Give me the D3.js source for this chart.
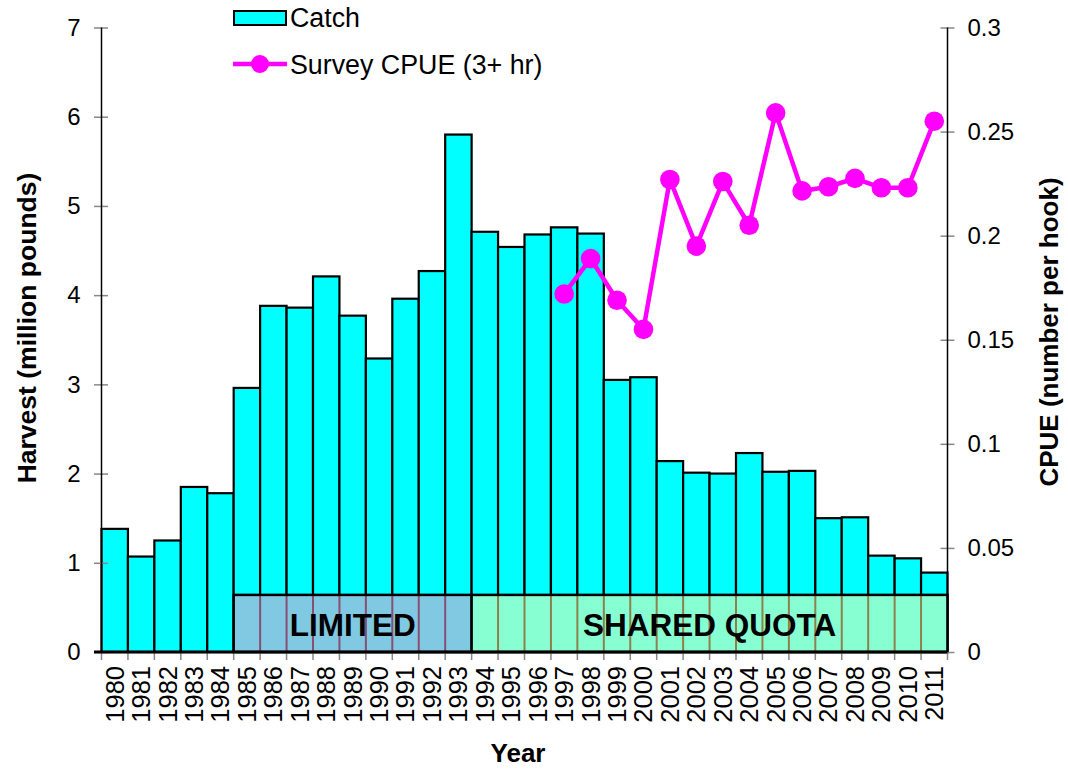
<!DOCTYPE html>
<html>
<head>
<meta charset="utf-8">
<script src="https://cdn.jsdelivr.net/npm/d3@7"></script>
<style>
  html, body { margin: 0; padding: 0; background: #ffffff; }
  svg { display: block; font-family: "Liberation Sans", Arial, sans-serif; }
</style>
</head>
<body>
<svg id="chart" width="1068" height="771"></svg>
<script>
// ---- data ----
const years = [1980,1981,1982,1983,1984,1985,1986,1987,1988,1989,1990,1991,1992,1993,1994,1995,1996,1997,1998,1999,2000,2001,2002,2003,2004,2005,2006,2007,2008,2009,2010,2011];
const catchValues = [1.38,1.07,1.25,1.85,1.78,2.96,3.88,3.86,4.21,3.77,3.29,3.96,4.27,5.80,4.71,4.54,4.68,4.76,4.69,3.05,3.08,2.14,2.01,2.00,2.23,2.02,2.03,1.50,1.51,1.08,1.05,0.89];
const cpueYears = [1997,1998,1999,2000,2001,2002,2003,2004,2005,2006,2007,2008,2009,2010,2011];
const cpueValues = [0.172,0.189,0.169,0.155,0.227,0.195,0.226,0.205,0.259,0.2215,0.2235,0.2275,0.223,0.223,0.255];
const leftTicks = [0,1,2,3,4,5,6,7];
const rightTicks = [0,0.05,0.1,0.15,0.2,0.25,0.3];
const rightTickLabels = ["0","0.05","0.1","0.15","0.2","0.25","0.3"];
const regimeLabels = ["LIMITED","SHARED QUOTA"];
const regimeStart = [1985,1994];
const regimeEnd = [1993,2011];
const regimeHeight = 0.64; // in harvest units
const regimeFills = ["#80C9E2","#86FFD3"];
const regimeLineColors = ["#8A4E72","#8E8048"];

(function () {
// ---- layout ----
const svg = d3.select("#chart");
const pLeft = 101.5, pRight = 947.5, pTop = 27.5, pBottom = 652;

const x = d3.scaleBand().domain(years).range([pLeft, pRight]).padding(0);
const yL = d3.scaleLinear().domain([0,7]).range([pBottom, pTop]);
const yR = d3.scaleLinear().domain([0,0.3]).range([pBottom, pTop]);

// bars
svg.append("g").selectAll("rect").data(years).join("rect")
  .attr("x", d => x(d))
  .attr("y", (d,i) => yL(catchValues[i]))
  .attr("width", x.bandwidth())
  .attr("height", (d,i) => pBottom - yL(catchValues[i]))
  .attr("fill", "#00FFFF")
  .attr("stroke", "#000")
  .attr("stroke-width", 2.2);

// regime boxes
const defs = svg.append("defs");
regimeLabels.forEach((lab, i) => {
  const p = defs.append("pattern").attr("id", "pat" + i)
    .attr("width", 4).attr("height", 4).attr("patternUnits", "userSpaceOnUse");
  p.append("rect").attr("width", 4).attr("height", 4).attr("fill", regimeFills[i]);
  p.append("rect").attr("x", 0).attr("y", 0).attr("width", 1).attr("height", 1)
    .attr("fill", i === 0 ? "#8ec2d8" : "#9cf0c8").attr("opacity", 0.6);
});
const rg = svg.append("g");
regimeLabels.forEach((lab, i) => {
  const x0 = x(regimeStart[i]);
  const x1 = x(regimeEnd[i]) + x.bandwidth();
  const yt = yL(regimeHeight);
  rg.append("rect").attr("x", x0).attr("y", yt).attr("width", x1 - x0).attr("height", pBottom - yt)
    .attr("fill", "url(#pat" + i + ")");
  const inner = years.filter(y => y > regimeStart[i] && y <= regimeEnd[i]);
  rg.append("g").selectAll("line").data(inner).join("line")
    .attr("x1", d => x(d)).attr("x2", d => x(d))
    .attr("y1", yt + 1).attr("y2", pBottom - 1)
    .attr("stroke", regimeLineColors[i]).attr("stroke-width", 2);
  rg.append("rect").attr("x", x0).attr("y", yt).attr("width", x1 - x0).attr("height", pBottom - yt)
    .attr("fill", "none").attr("stroke", "#000").attr("stroke-width", 2.5);
  rg.append("text").attr("x", (x0 + x1) / 2).attr("y", 636)
    .attr("text-anchor", "middle").attr("font-weight", "bold").attr("font-size", 31.5)
    .attr("fill", "#000").text(lab);
});

// axes
const axL = svg.append("g").attr("transform", `translate(${pLeft},0)`)
  .call(d3.axisLeft(yL).tickValues(leftTicks).tickSize(0).tickPadding(21).tickFormat(d3.format("d")));
axL.select(".domain").remove();
axL.selectAll("text").attr("font-size", 24).attr("fill", "#000").attr("font-family", null);
axL.selectAll(".tick").append("line").attr("x1", -7.5).attr("x2", 6.5).attr("stroke", "#888").attr("stroke-width", 1.5);
svg.append("line").attr("x1", pLeft).attr("x2", pLeft).attr("y1", pTop).attr("y2", pBottom).attr("stroke", "#000").attr("stroke-width", 1.5);

const axR = svg.append("g").attr("transform", `translate(${pRight},0)`)
  .call(d3.axisRight(yR).tickValues(rightTicks).tickSize(0).tickPadding(20).tickFormat((d,i) => rightTickLabels[i]));
axR.select(".domain").remove();
axR.selectAll("text").attr("font-size", 24).attr("fill", "#000").attr("font-family", null);
axR.selectAll(".tick").append("line").attr("x1", -7).attr("x2", 7).attr("stroke", "#888").attr("stroke-width", 1.5);
svg.append("line").attr("x1", pRight).attr("x2", pRight).attr("y1", pTop).attr("y2", pBottom).attr("stroke", "#000").attr("stroke-width", 1.5);

// bottom axis
const axB = svg.append("g").attr("transform", `translate(0,${pBottom})`)
  .call(d3.axisBottom(x).tickSize(0).tickPadding(0));
axB.select(".domain").remove();
axB.selectAll("text")
  .attr("font-size", 25.5).attr("fill", "#000").attr("font-family", null)
  .attr("text-anchor", "end")
  .attr("transform", "translate(0,14) rotate(-90)")
  .attr("x", 0).attr("y", 0).attr("dy", "0.35em");
const bounds = years.map(d => x(d)).concat([pRight]);
svg.append("g").selectAll("line").data(bounds).join("line")
  .attr("x1", d => d).attr("x2", d => d).attr("y1", pBottom).attr("y2", pBottom + 8)
  .attr("stroke", "#888").attr("stroke-width", 1.5);
svg.append("line").attr("x1", pLeft - 7.5).attr("x2", pRight).attr("y1", pBottom).attr("y2", pBottom)
  .attr("stroke", "#000").attr("stroke-width", 3);

// CPUE line
const cx = d => x(d) + x.bandwidth() / 2;
svg.append("path").datum(cpueYears)
  .attr("fill", "none").attr("stroke", "#FF00FF").attr("stroke-width", 4.5).attr("stroke-linejoin", "round")
  .attr("d", d3.line().x(d => cx(d)).y((d,i) => yR(cpueValues[i])));
svg.append("g").selectAll("circle").data(cpueYears).join("circle")
  .attr("cx", d => cx(d)).attr("cy", (d,i) => yR(cpueValues[i])).attr("r", 9.8)
  .attr("fill", "#FF00FF");

// axis titles
svg.append("text").attr("transform", "translate(36,328) rotate(-90)")
  .attr("text-anchor", "middle").attr("font-weight", "bold").attr("font-size", 26.5).text("Harvest (million pounds)");
svg.append("text").attr("transform", "translate(1058,332) rotate(-90)")
  .attr("text-anchor", "middle").attr("font-weight", "bold").attr("font-size", 26).text("CPUE (number per hook)");
svg.append("text").attr("x", 518).attr("y", 762)
  .attr("text-anchor", "middle").attr("font-weight", "bold").attr("font-size", 26).text("Year");

// legend
const lg = svg.append("g");
lg.append("rect").attr("x", 234).attr("y", 11).attr("width", 52).attr("height", 14)
  .attr("fill", "#00FFFF").attr("stroke", "#000").attr("stroke-width", 2);
lg.append("text").attr("x", 290).attr("y", 27).attr("font-size", 26.8).text("Catch");
lg.append("line").attr("x1", 233).attr("x2", 287).attr("y1", 64).attr("y2", 64)
  .attr("stroke", "#FF00FF").attr("stroke-width", 4.5);
lg.append("circle").attr("cx", 260).attr("cy", 64).attr("r", 9).attr("fill", "#FF00FF");
lg.append("text").attr("x", 290).attr("y", 74).attr("font-size", 26.8).text("Survey CPUE (3+ hr)");
})();
</script>
</body>
</html>
